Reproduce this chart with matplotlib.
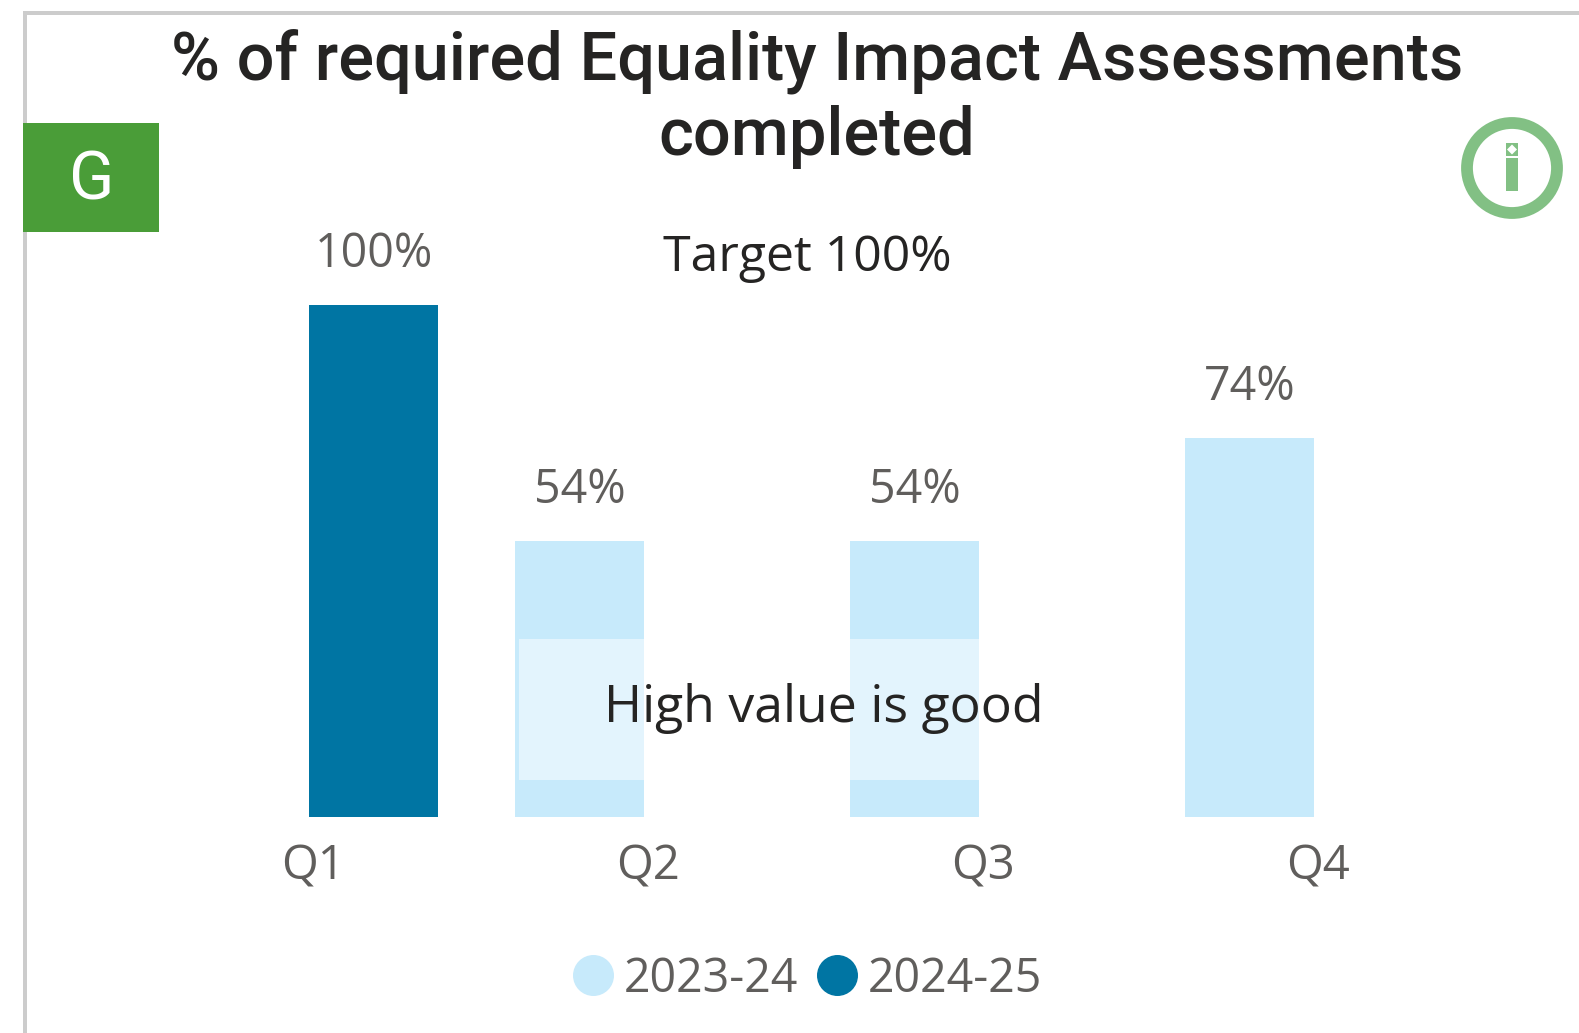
import matplotlib
matplotlib.use('Agg')
import matplotlib.pyplot as plt
import numpy as np
from matplotlib.lines import Line2D
from matplotlib.patches import Circle, Rectangle, RegularPolygon

quarters = ['Q1', 'Q2', 'Q3', 'Q4']
values_2324 = [np.nan, 54, 54, 74]
values_2425 = [100, np.nan, np.nan, np.nan]
series_names = ['2023-24', '2024-25']

W, H = 1579, 1033
LIGHT = '#C7EAFB'
DARK = '#0075A3'
GREY = '#605E5C'
INK = '#252423'
SEGOE = 'Open Sans'
DIN = 'Roboto'

fig = plt.figure(figsize=(W / 100, H / 100), dpi=100, facecolor='white')

# chart axes, placed in pixels
left, right, top, bottom = 141.5, 1481.5, 305.5, 817
ax = fig.add_axes([left / W, 1 - bottom / H, (right - left) / W, (bottom - top) / H])
x = np.arange(len(quarters))
bw = 0.385
b1 = ax.bar(x - bw / 2, values_2324, bw, color=LIGHT)
b2 = ax.bar(x + bw / 2, values_2425, bw, color=DARK)
for bars, vals in ((b1, values_2324), (b2, values_2425)):
    labels = ['' if np.isnan(v) else f'{v:.0f}%' for v in vals]
    ax.bar_label(bars, labels=labels, padding=19.5, fontsize=33.5, color=GREY, family=SEGOE)
ax.set_xlim(-0.5, 3.5)
ax.set_ylim(0, 100)
ax.set_yticks([])
ax.set_xticks(x + 0.013)
ax.set_xticklabels(quarters, fontsize=34, color=GREY, family=SEGOE)
ax.tick_params(axis='x', length=0, pad=19)
for s in ax.spines.values():
    s.set_visible(False)
ax.patch.set_alpha(0)

handles = [Line2D([], [], linestyle='', marker='o', markersize=28.5, color=c) for c in (LIGHT, DARK)]
leg = ax.legend(handles, series_names, loc='center', bbox_to_anchor=(807 / W, 1 - 979 / H),
                bbox_transform=fig.transFigure, ncol=2, frameon=False,
                labelcolor=GREY, prop={'family': SEGOE, 'size': 33.5},
                handletextpad=0.22, columnspacing=0.37, handlelength=0.9)

# everything else sits on a pixel overlay
ov = fig.add_axes([0, 0, 1, 1], zorder=5)
ov.set_xlim(0, W)
ov.set_ylim(H, 0)
ov.axis('off')
ov.add_patch(Rectangle((23, 11), W - 23, 4, color='#CCCCCC', lw=0))
ov.add_patch(Rectangle((23, 11), 4, H - 11, color='#CCCCCC', lw=0))
ov.add_patch(Rectangle((23, 123), 136, 109, color='#4A9D38', lw=0))
ov.text(92, 182, 'G', color='white', fontsize=48, family=DIN, ha='center', va='center')

ov.text(817, 61, '% of required Equality Impact Assessments', fontsize=48, family=DIN,
        weight='medium', color=INK, ha='center', va='center')
ov.text(817, 137, 'completed', fontsize=48, family=DIN, weight='medium', color=INK,
        ha='center', va='center')
ov.text(807, 258, 'Target 100%', fontsize=36, family=SEGOE, color=INK, ha='center', va='center')

ov.add_patch(Rectangle((519, 639), 521, 141, color='white', alpha=0.5, lw=0))
ov.text(824, 708, 'High value is good', fontsize=37.3, family=SEGOE, color=INK, ha='center', va='center')

# info icon
ov.add_patch(Circle((1512, 168), 45, fill=False, ec='#82C084', lw=8.5))
ov.add_patch(Rectangle((1506, 158), 12, 33, color='#82C084', lw=0))
ov.add_patch(Rectangle((1506, 143), 12, 13, color='#82C084', lw=0))
ov.add_patch(RegularPolygon((1512, 149.5), 4, radius=5, color='white', lw=0))

fig.savefig('out.png', dpi=100, facecolor='white')
